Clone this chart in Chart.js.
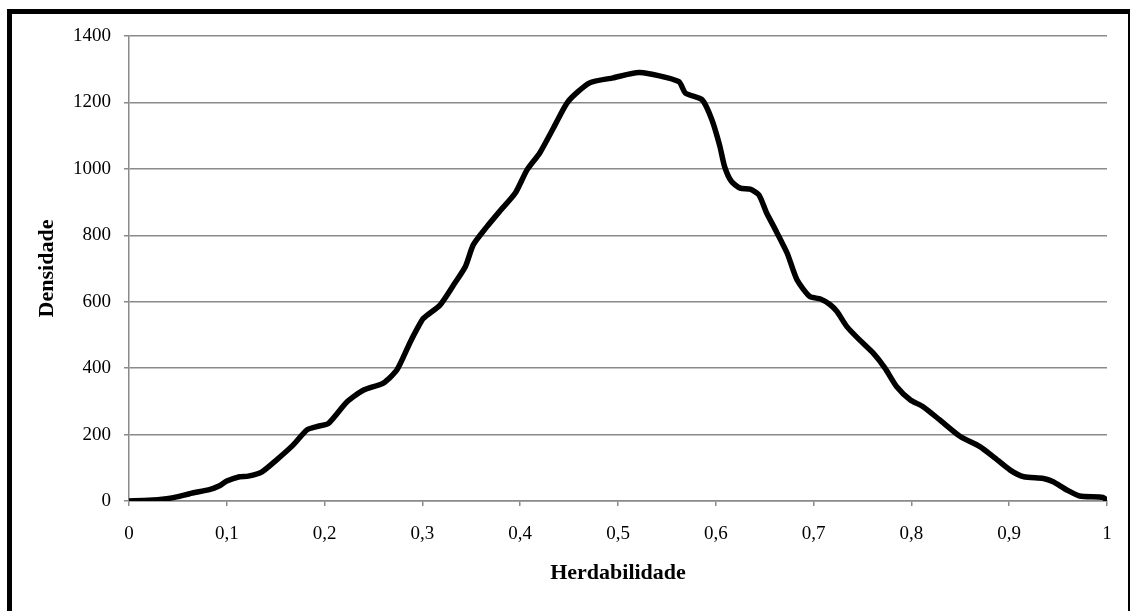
<!DOCTYPE html>
<html lang="pt">
<head>
    <meta charset="UTF-8">
    <title>Densidade - Herdabilidade</title>
    <script src="https://cdn.jsdelivr.net/npm/chart.js@4.4.1/dist/chart.umd.min.js"></script>
    <style>
        html, body { margin: 0; padding: 0; background: #fff; overflow: hidden; }
        #wrap { position: absolute; left: 0; top: 0; width: 1135px; height: 611px; }
        #frame {
            position: absolute; left: 7px; top: 9px; width: 1116px; height: 700px;
            border: 5px solid #000; border-right-width: 2px; pointer-events: none;
        }
    </style>
</head>
<body>
<div id="wrap">
    <canvas id="myChart"></canvas>
</div>
<div id="frame"></div>

<script>
    // valores
    var herdabilidade = [0, 0.02, 0.0385, 0.05, 0.062, 0.083, 0.092, 0.1, 0.113, 0.122, 0.136, 0.151, 0.168, 0.182,
        0.192, 0.204, 0.223, 0.24, 0.26, 0.274, 0.287, 0.294, 0.301, 0.318, 0.332, 0.344, 0.352, 0.366, 0.379,
        0.395, 0.407, 0.42, 0.434, 0.449, 0.471, 0.495, 0.522, 0.562, 0.569, 0.586, 0.596, 0.604, 0.609, 0.616,
        0.625, 0.635, 0.644, 0.652, 0.662, 0.673, 0.683, 0.696, 0.707, 0.717, 0.724, 0.734, 0.747, 0.761, 0.773,
        0.785, 0.799, 0.812, 0.829, 0.85, 0.87, 0.884, 0.901, 0.915, 0.935, 0.945, 0.959, 0.972, 0.996, 1];
    var densidade = [0, 2, 7, 13, 22, 35, 45, 60, 73, 75, 88, 124, 169, 214,
        224, 234, 299, 334, 355, 395, 475, 515, 550, 590, 651, 706, 771, 826, 872,
        927, 997, 1048, 1123, 1203, 1259, 1274, 1290, 1263, 1228, 1208, 1148, 1070, 1007, 962,
        942, 939, 922, 867, 811, 746, 666, 616, 608, 591, 570, 525, 485, 445, 400,
        344, 304, 284, 244, 194, 164, 133, 93, 73, 68, 58, 33, 15, 11, 1];
    var xTickLabels = ['0', '0,1', '0,2', '0,3', '0,4', '0,5', '0,6', '0,7', '0,8', '0,9', '1'];
    var yTickLabels = ['0', '200', '400', '600', '800', '1000', '1200', '1400'];

    var pontos = [];
    herdabilidade.forEach(function (h, i) {
        pontos.push({x: h, y: densidade[i]});
    });

    var serif = "'Liberation Serif', 'Times New Roman', serif";
    var cinza = '#8a8a8a';

    var ctx = document.getElementById('myChart').getContext('2d');
    var chart = new Chart(ctx, {
        type: 'line',
        data: {
            datasets: [{
                data: pontos,
                borderColor: '#000',
                borderWidth: 5.5,
                borderCapStyle: 'round',
                borderJoinStyle: 'round',
                pointRadius: 0,
                tension: 0.22,
                fill: false
            }]
        },
        options: {
            responsive: true,
            maintainAspectRatio: false,
            animation: false,
            layout: {padding: {left: 20, top: 36, right: 28, bottom: 0}},
            plugins: {legend: {display: false}, tooltip: {enabled: false}},
            scales: {
                x: {
                    type: 'linear',
                    min: 0,
                    max: 1,
                    afterFit: function (scale) { scale.height = 110; },
                    ticks: {
                        stepSize: 0.1,
                        padding: 17,
                        color: '#000',
                        maxRotation: 0,
                        font: {family: serif, size: 19},
                        callback: function (v, i) { return xTickLabels[i]; }
                    },
                    grid: {drawOnChartArea: false, drawTicks: true, tickLength: 5, color: cinza, lineWidth: 1.5},
                    border: {color: cinza, width: 1.5},
                    title: {
                        display: true,
                        text: 'Herdabilidade',
                        color: '#000',
                        font: {family: serif, size: 22, weight: 'bold'},
                        padding: {top: 0, bottom: 24}
                    }
                },
                y: {
                    min: 0,
                    max: 1400,
                    afterFit: function (scale) { scale.width = 109; },
                    ticks: {
                        stepSize: 200,
                        padding: 13,
                        color: '#000',
                        font: {family: serif, size: 19},
                        callback: function (v, i) { return yTickLabels[i]; }
                    },
                    grid: {color: cinza, lineWidth: 1.5, tickLength: 5},
                    border: {color: cinza, width: 1.5},
                    title: {
                        display: true,
                        text: 'Densidade',
                        color: '#000',
                        font: {family: serif, size: 22, weight: 'bold'},
                        padding: {top: 14, bottom: 0}
                    }
                }
            }
        }
    });
</script>
</body>
</html>
